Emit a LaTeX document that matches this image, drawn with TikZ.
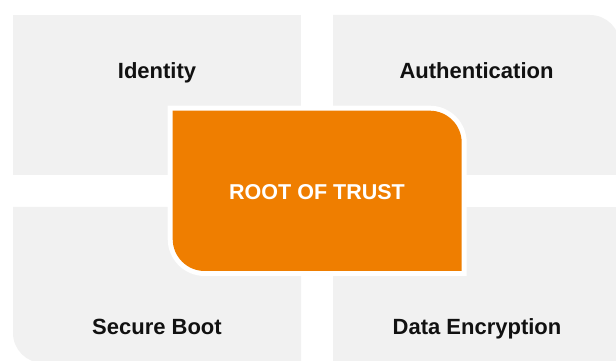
\documentclass[tikz,border=0pt]{standalone}
\usepackage{fontspec}
\setmainfont{Liberation Sans}
\definecolor{quadgray}{HTML}{F1F1F1}
\definecolor{trustorange}{HTML}{EF7E00}
\definecolor{labelblack}{HTML}{111111}
\begin{document}
\begin{tikzpicture}[x=1pt,y=1pt]
		\clip (0,0) rectangle (616,361);
		\tikzstyle quad_style=[fill=quadgray];
		\tikzstyle label_style=[anchor=base,text=labelblack,font=\bfseries\fontsize{22}{26}\selectfont,inner sep=0pt];
		\tikzstyle root_style=[anchor=base,text=white,font=\bfseries\fontsize{21.5}{26}\selectfont,inner sep=0pt];

		% FOUR QUADRANTS
		\fill[style=quad_style] (13,186) rectangle (301,346);
		\fill[style=quad_style] (333,186) -- (333,346) -- (590,346) arc[start angle=90,end angle=0,radius=30] -- (620,186) -- cycle;
		\fill[style=quad_style] (13,154) -- (301,154) -- (301,-2) -- (43,-2) arc[start angle=270,end angle=180,radius=30] -- cycle;
		\fill[style=quad_style] (333,154) rectangle (620,-2);

		% WHITE BORDER AND ORANGE BOX
		\fill[white] (167.7,255.3) -- (429.7,255.3) arc[start angle=90,end angle=0,radius=37] -- (466.7,85) -- (204.7,85) arc[start angle=270,end angle=180,radius=37] -- cycle;
		\fill[trustorange] (172.7,250.3) -- (429.7,250.3) arc[start angle=90,end angle=0,radius=32] -- (461.7,90) -- (204.7,90) arc[start angle=270,end angle=180,radius=32] -- cycle;

		% LABELS
		\foreach \x/\y/\name/\txt in {157/282/identity/Identity, 476.5/282/auth/Authentication, 157/26/boot/Secure Boot, 477/26/encrypt/Data Encryption}
			\node[style=label_style] (\name) at (\x,\y) {\txt};
		\node[style=root_style] (root) at (317,161.7) {ROOT OF TRUST};
\end{tikzpicture}
\end{document}
